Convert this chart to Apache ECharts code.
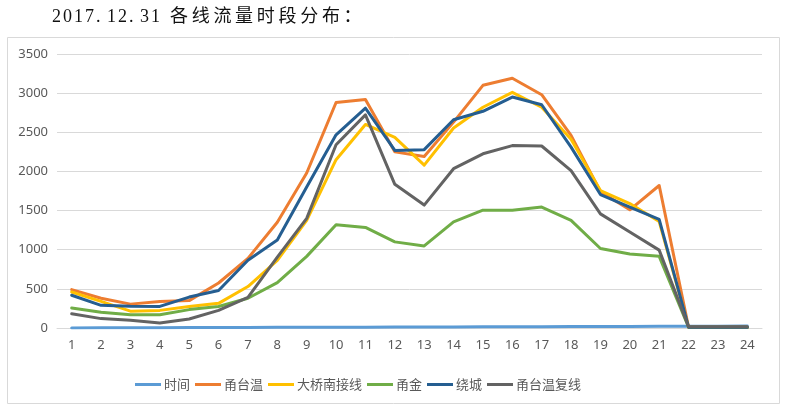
<!DOCTYPE html>
<html>
<head>
<meta charset="utf-8">
<script src="https://cdn.jsdelivr.net/npm/echarts@6/dist/echarts.min.js"></script>
<style>
html,body{margin:0;padding:0;background:#fff;}
#chart{width:788px;height:410px;}
</style>
</head>
<body>
<div id="chart"></div>
<script>
const titleText = '2017.12.31 各线流量时段分布：';
const categories = ['1','2','3','4','5','6','7','8','9','10','11','12','13','14','15','16','17','18','19','20','21','22','23','24'];
const yTicks = [0, 500, 1000, 1500, 2000, 2500, 3000, 3500];
const seriesNames = ['时间','甬台温','大桥南接线','甬金','绕城','甬台温复线'];
const shijian = [1,2,3,4,5,6,7,8,9,10,11,12,13,14,15,16,17,18,19,20,21,22,23,24];
const yongtaiwen = [490,380,305,340,350,575,890,1350,1980,2880,2920,2250,2190,2630,3100,3190,2980,2460,1740,1510,1820,10,10,10];
const daqiao = [460,340,215,225,275,315,530,865,1375,2150,2600,2435,2080,2555,2820,3010,2820,2410,1755,1590,1360,10,10,10];
const yongjin = [255,200,170,168,235,275,380,580,915,1320,1285,1100,1048,1355,1505,1505,1545,1375,1015,945,915,10,10,10];
const raocheng = [418,290,278,276,395,478,865,1125,1800,2468,2808,2268,2278,2660,2768,2950,2852,2310,1705,1545,1388,10,10,10];
const fuxian = [182,120,100,64,115,225,392,905,1400,2340,2722,1835,1570,2035,2225,2330,2325,2010,1458,1225,995,15,15,15];
const colors = ['#5B9BD5','#ED7D31','#FFC000','#70AD47','#255E91','#636363'];
const allData = [shijian, yongtaiwen, daqiao, yongjin, raocheng, fuxian];

const chart = echarts.init(document.getElementById('chart'), null, {renderer:'canvas'});

const titleEls = [];
let tx = 52;
for (const ch of titleText) {
  const half = ch.charCodeAt(0) < 256;
  titleEls.push({
    type:'text', x: tx, y: 8,
    style:{text: ch, fill:'#111', font:'18px "Liberation Serif", "Noto Sans CJK SC", serif'}
  });
  tx += ch === ' ' ? 8 : (half ? 11 : 21.7);
}

const option = {
  animation:false,
  color: colors,
  graphic: [
    {type:'rect', shape:{x:7.5, y:37.5, width:772, height:366}, style:{fill:'none', stroke:'#d9d9d9', lineWidth:1}, z:-10},
    ...titleEls
  ],
  grid:{left:57, right:26, top:54, bottom:82},
  legend:{
    data: seriesNames,
    left:130, top:373,
    icon:'rect', itemWidth:26, itemHeight:3, itemGap:5,
    textStyle:{color:'#595959', fontSize:13, fontFamily:'"Noto Sans CJK SC", sans-serif', padding:[0,0,0,-2]}
  },
  xAxis:{
    type:'category', data: categories, boundaryGap:true,
    axisLine:{show:true, lineStyle:{color:'#d9d9d9', width:1}},
    axisTick:{show:false},
    axisLabel:{color:'#595959', fontSize:13, margin:11, fontFamily:'"Noto Sans", sans-serif'}
  },
  yAxis:{
    type:'value', min: yTicks[0], max: yTicks[yTicks.length-1], interval: yTicks[1]-yTicks[0],
    axisLine:{show:false}, axisTick:{show:false},
    splitLine:{lineStyle:{color:'#d9d9d9', width:1}},
    axisLabel:{color:'#595959', fontSize:13, margin:9, fontFamily:'"Noto Sans", sans-serif', formatter: v => String(v)}
  },
  series: seriesNames.map((n,i)=>({
    name:n, type:'line', data: allData[i], showSymbol:false, symbol:'none',
    lineStyle:{width:3, color: colors[i], join:'round', cap:'round'},
    itemStyle:{color: colors[i]}
  }))
};
chart.setOption(option);
</script>
</body>
</html>
